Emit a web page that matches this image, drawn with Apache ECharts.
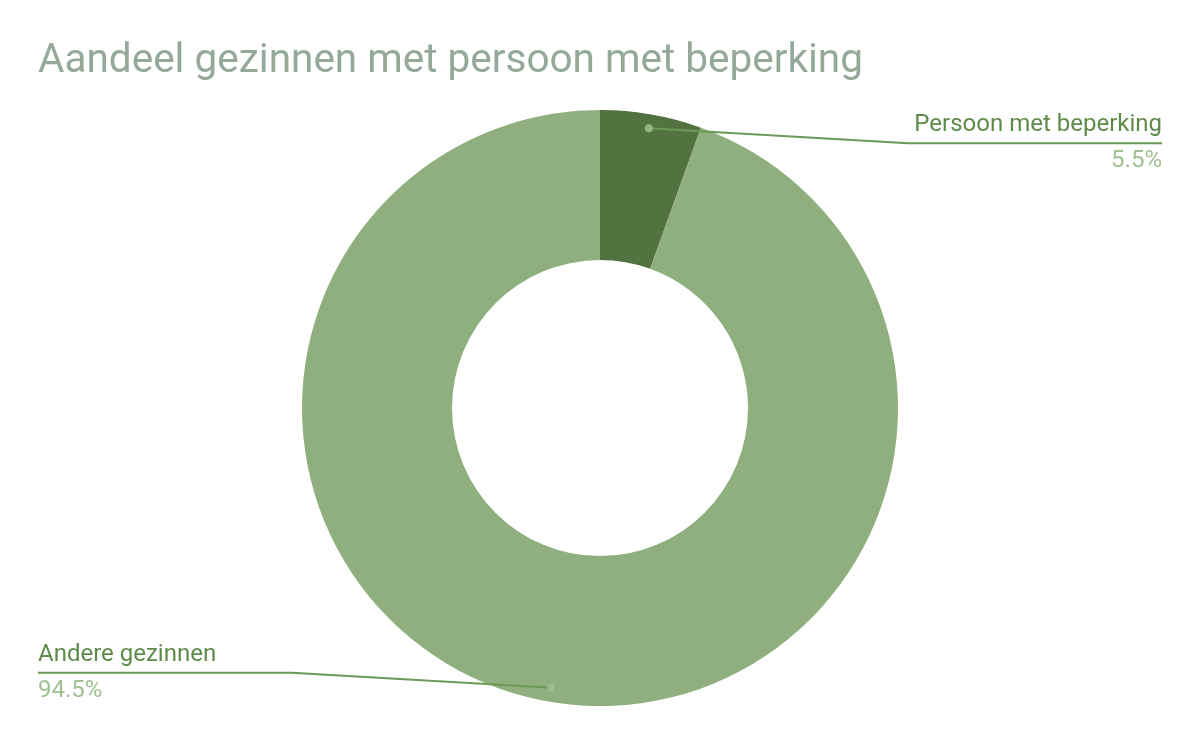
<!DOCTYPE html>
<html>
<head>
<meta charset="utf-8">
<script src="https://cdn.jsdelivr.net/npm/echarts@6/dist/echarts.min.js"></script>
<style>html,body{margin:0;padding:0;background:#fff}#c{width:1200px;height:742px}</style>
</head>
<body>
<div id="c"></div>
<script>
const titleText = 'Aandeel gezinnen met persoon met beperking';
const categories = ['Persoon met beperking', 'Andere gezinnen'];
const values = [5.5, 94.5];
const sliceColors = ['#52723f', '#8fb07e'];

const total = values.reduce((a, b) => a + b, 0);
const mids = [];
let acc = 0;
values.forEach(v => { mids.push(acc + v / 2); acc += v; });

const chart = echarts.init(document.getElementById('c'));
const H = 742;
const pieData = categories.map((n, i) => ({ name: n, value: values[i] }));

chart.setOption({
  backgroundColor: '#ffffff',
  animation: false,
  title: {
    text: titleText, left: 38, top: 41, padding: 0,
    textStyle: { fontFamily: 'Roboto', fontWeight: 'normal', fontSize: 40.5, color: '#95a99a' }
  },
  polar: { center: ['50%', '55%'], radius: 298 },
  angleAxis: { type: 'value', min: 0, max: total, startAngle: 90, clockwise: true, show: false },
  radiusAxis: { type: 'value', min: 0, max: 298, show: false },
  series: [
    {
      type: 'pie', center: ['50%', '55%'], radius: [148, 298], startAngle: 90,
      silent: true, label: { show: false }, labelLine: { show: false },
      itemStyle: { borderWidth: 0 },
      data: pieData.map((d, i) => ({ ...d, itemStyle: { color: sliceColors[i] } })),
      z: 1
    },
    {
      type: 'pie', center: ['50%', '55%'], radius: [0, 284], startAngle: 90,
      silent: true, z: 3,
      itemStyle: { color: 'rgba(0,0,0,0)', borderWidth: 0 },
      avoidLabelOverlap: false,
      label: {
        show: true, position: 'outer', alignTo: 'edge', edgeDistance: 38,
        fontFamily: 'Roboto',
        formatter: p => '{n|' + p.name + '}\n{v|' + p.value.toFixed(1) + '%}',
        rich: {
          n: { fontFamily: 'Roboto', fontSize: 24, lineHeight: 36, color: '#5e8a4a' },
          v: { fontFamily: 'Roboto', fontSize: 24, lineHeight: 36, color: '#a0c091' }
        }
      },
      labelLine: { show: true, length: 0, length2: 10, smooth: false, lineStyle: { color: '#6b9a57', width: 2 } },
      labelLayout: function (params) {
        const pts = params.labelLinePoints;
        const r = params.labelRect;
        if (!pts) return {};
        const start = pts[0];
        const above = start[1] < H * 0.55;
        const dy = above ? 15 : -15;
        const lineY = r.y + r.height / 2 + dy;
        const rightSide = start[0] > 600;
        const seg = 254;
        let pts2;
        if (rightSide) {
          const endX = r.x + r.width;
          pts2 = [start, [endX - seg, lineY], [endX, lineY]];
        } else {
          const endX = r.x;
          pts2 = [start, [endX + seg, lineY], [endX, lineY]];
        }
        return { dy: dy, labelLinePoints: pts2 };
      },
      data: pieData
    },
    {
      type: 'scatter', coordinateSystem: 'polar', silent: true, z: 4,
      symbol: 'circle', symbolSize: 8,
      itemStyle: { color: '#a3c193' },
      data: mids.map(m => [284, m])
    }
  ]
});
</script>
</body>
</html>
